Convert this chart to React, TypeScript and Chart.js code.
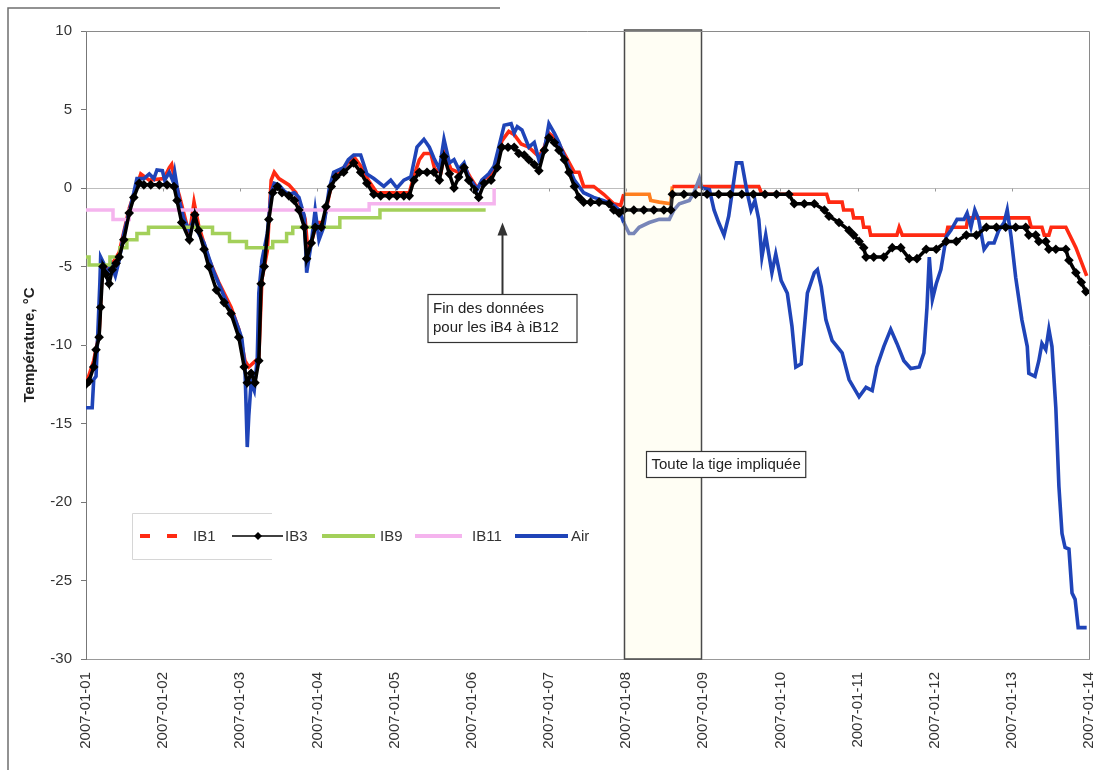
import React, { useEffect, useRef } from 'react';
import { Chart, registerables } from 'chart.js';

Chart.register(...registerables);

const FONT = '"Liberation Sans", Arial, Helvetica, sans-serif';

// ---- tick labels (one per day, 2007-01-01 .. 2007-01-14) ----
const dateLabels = [
  '2007-01-01', '2007-01-02', '2007-01-03', '2007-01-04', '2007-01-05',
  '2007-01-06', '2007-01-07', '2007-01-08', '2007-01-09', '2007-01-10',
  '2007-01-11', '2007-01-12', '2007-01-13', '2007-01-14',
];

const yMin = -30;
const yMax = 10;
const yStep = 5;

// ---- series: [time in days since 2007-01-01 00:00, temperature °C] ----
const ib1Series: [number, number][] = [
  [0.00, -12.5], [0.10, -11.0], [0.17, -9.3], [0.21, -5.2], [0.32, -5.0], [0.43, -4.1],
  [0.56, -1.3], [0.65, 0.0], [0.71, 0.9], [0.82, 0.5], [1.01, 0.6], [1.08, 1.3], [1.11, 1.5],
  [1.15, 0.5], [1.21, -0.5], [1.34, -3.0], [1.40, -0.9], [1.46, -2.4], [1.59, -4.5],
  [1.72, -6.0], [1.88, -7.6], [1.98, -9.0], [2.06, -11.0], [2.11, -11.4], [2.20, -11.0],
  [2.24, -10.8], [2.28, -5.8], [2.35, -4.0], [2.40, 0.5], [2.44, 1.0], [2.50, 0.6],
  [2.63, 0.2], [2.72, -0.3], [2.79, -1.2], [2.84, -2.0], [2.88, -4.2], [2.93, -3.3],
  [2.99, -2.2], [3.08, -2.2], [3.15, -0.5], [3.21, 0.8], [3.34, 1.3], [3.47, 2.0],
  [3.56, 1.4], [3.66, 0.5], [3.77, -0.3], [4.19, -0.3], [4.26, 0.9], [4.32, 1.8],
  [4.38, 2.2], [4.47, 2.2], [4.52, 1.2], [4.60, 1.0], [4.65, 2.2], [4.73, 1.2], [4.83, 1.0],
  [4.90, 1.4], [4.99, 0.6], [5.07, 0.0], [5.16, 0.6], [5.25, 0.8], [5.33, 1.8], [5.39, 3.0],
  [5.48, 3.6], [5.55, 3.4], [5.64, 2.8], [5.74, 2.6], [5.87, 2.0], [5.94, 2.6], [6.00, 3.5],
  [6.07, 3.2], [6.13, 2.8], [6.22, 2.0], [6.33, 1.0], [6.39, 1.0], [6.45, 0.1], [6.58, 0.1],
  [6.71, -0.4], [6.84, -1.0], [6.93, -1.1], [6.97, -0.4], [7.30, -0.4], [7.32, -0.8],
  [7.43, -0.9], [7.58, -1.0], [7.60, 0.1], [8.72, 0.1], [8.76, -0.4], [9.60, -0.4],
  [9.63, -0.9], [9.80, -0.9], [9.82, -1.4], [9.93, -1.4], [9.95, -1.9], [10.06, -1.9],
  [10.08, -2.5], [10.15, -2.5], [10.17, -3.0], [10.51, -3.0], [10.54, -2.5], [10.58, -3.0],
  [11.15, -3.0], [11.17, -2.5], [11.41, -2.5], [11.43, -1.9], [12.22, -1.9], [12.25, -2.5],
  [12.39, -2.5], [12.42, -3.0], [12.48, -3.0], [12.51, -2.5], [12.70, -2.5], [12.83, -3.8],
  [12.97, -5.6],
];

const ib3Series: [number, number][] = [
  [0.00, -12.5], [0.04, -12.3], [0.10, -11.4], [0.13, -10.3], [0.17, -9.5], [0.19, -7.6],
  [0.22, -5.0], [0.26, -5.5], [0.30, -6.1], [0.34, -5.2], [0.39, -4.8], [0.43, -4.4],
  [0.49, -3.3], [0.56, -1.6], [0.62, -0.6], [0.69, 0.3], [0.75, 0.2], [0.84, 0.2],
  [0.95, 0.2], [1.05, 0.2], [1.14, 0.1], [1.18, -0.8], [1.24, -2.2], [1.34, -3.3],
  [1.41, -1.7], [1.46, -2.7], [1.53, -3.9], [1.59, -5.0], [1.69, -6.5], [1.79, -7.3],
  [1.88, -8.0], [1.98, -9.5], [2.05, -11.4], [2.09, -12.4], [2.14, -11.8], [2.19, -12.4],
  [2.24, -11.0], [2.27, -6.1], [2.31, -5.0], [2.37, -2.0], [2.42, -0.3], [2.48, 0.1],
  [2.54, -0.3], [2.63, -0.5], [2.70, -0.8], [2.76, -1.4], [2.83, -2.5], [2.86, -4.5],
  [2.92, -3.5], [2.97, -2.5], [3.05, -2.5], [3.11, -1.2], [3.18, 0.1], [3.24, 0.7],
  [3.34, 1.0], [3.47, 1.6], [3.56, 1.0], [3.64, 0.3], [3.73, -0.4], [3.82, -0.5],
  [3.93, -0.5], [4.03, -0.5], [4.12, -0.5], [4.19, -0.5], [4.25, 0.5], [4.32, 1.0],
  [4.42, 1.0], [4.51, 1.0], [4.58, 0.5], [4.64, 2.0], [4.71, 0.9], [4.77, 0.0], [4.83, 0.7],
  [4.90, 1.3], [4.96, 0.5], [5.03, -0.1], [5.09, -0.6], [5.16, 0.3], [5.25, 0.5], [5.33, 1.3],
  [5.39, 2.6], [5.47, 2.6], [5.55, 2.6], [5.61, 2.2], [5.68, 2.1], [5.74, 1.8], [5.81, 1.5],
  [5.87, 1.1], [5.94, 2.4], [6.00, 3.2], [6.07, 2.9], [6.13, 2.4], [6.20, 1.8], [6.26, 1.0],
  [6.33, 0.1], [6.39, -0.6], [6.45, -0.9], [6.54, -0.9], [6.65, -0.9], [6.78, -1.0],
  [6.84, -1.4], [6.91, -1.6], [6.97, -1.4], [7.10, -1.4], [7.23, -1.4], [7.36, -1.4],
  [7.49, -1.4], [7.58, -1.4], [7.60, -0.4], [7.75, -0.4], [7.90, -0.4], [8.05, -0.4],
  [8.20, -0.4], [8.35, -0.4], [8.50, -0.4], [8.65, -0.4], [8.80, -0.4], [8.95, -0.4],
  [9.11, -0.4], [9.18, -1.0], [9.31, -1.0], [9.44, -1.0], [9.57, -1.4], [9.63, -1.8],
  [9.76, -2.2], [9.89, -2.7], [9.95, -3.0], [10.02, -3.4], [10.08, -3.8], [10.11, -4.4],
  [10.21, -4.4], [10.34, -4.4], [10.45, -3.8], [10.56, -3.8], [10.67, -4.5], [10.77, -4.5],
  [10.89, -3.9], [11.02, -3.9], [11.15, -3.4], [11.28, -3.4], [11.41, -3.0], [11.54, -3.0],
  [11.67, -2.5], [11.80, -2.5], [11.92, -2.5], [12.05, -2.5], [12.18, -2.5], [12.22, -3.0],
  [12.31, -3.0], [12.35, -3.4], [12.44, -3.4], [12.48, -3.9], [12.57, -3.9], [12.70, -3.9],
  [12.74, -4.6], [12.83, -5.4], [12.90, -6.0], [12.96, -6.6],
];

const ib9Series: [number, number][] = [
  [0.00, -4.4], [0.04, -4.9], [0.31, -4.4], [0.44, -3.8], [0.53, -3.3], [0.66, -2.9],
  [0.81, -2.5], [1.64, -2.9], [1.86, -3.4], [2.08, -3.8], [2.42, -3.4], [2.60, -2.9],
  [2.68, -2.5], [3.29, -1.9], [3.81, -1.4], [5.18, -1.4],
];

const ib11Series: [number, number][] = [
  [0.00, -1.4], [0.35, -2.0], [0.56, -1.4], [3.67, -1.0], [5.29, 0.0],
];

const airSeries: [number, number][] = [
  [0.00, -14.0], [0.08, -14.0], [0.10, -12.2], [0.13, -12.0], [0.18, -6.0], [0.19, -4.4],
  [0.23, -4.8], [0.27, -5.6], [0.32, -4.8], [0.38, -5.6], [0.43, -4.6], [0.49, -2.9],
  [0.56, -1.5], [0.62, -0.3], [0.66, 0.6], [0.75, 0.6], [0.82, 0.9], [0.88, 0.6],
  [0.92, 1.15], [0.99, 1.1], [1.02, 0.5], [1.08, 1.0], [1.13, 0.4], [1.15, 1.0],
  [1.21, -0.8], [1.27, -2.0], [1.34, -2.7], [1.41, -1.8], [1.46, -2.9], [1.53, -3.5],
  [1.59, -4.4], [1.66, -5.4], [1.72, -6.1], [1.79, -6.9], [1.85, -7.6], [1.92, -8.2],
  [1.98, -9.0], [2.02, -9.6], [2.06, -11.4], [2.09, -16.5], [2.11, -14.5], [2.14, -12.4],
  [2.18, -12.9], [2.22, -10.8], [2.24, -6.7], [2.28, -4.6], [2.35, -2.9], [2.40, -0.3],
  [2.44, 0.3], [2.50, 0.2], [2.57, -0.2], [2.63, -0.4], [2.70, -0.3], [2.76, -0.6],
  [2.83, -1.8], [2.86, -5.4], [2.92, -3.5], [2.97, -1.4], [3.02, -3.3], [3.08, -2.5],
  [3.15, -0.1], [3.21, 1.0], [3.34, 1.3], [3.40, 1.8], [3.47, 2.1], [3.56, 2.1],
  [3.64, 0.9], [3.73, 0.6], [3.86, 0.1], [3.95, 0.5], [4.03, 0.0], [4.12, 0.5],
  [4.21, 0.7], [4.29, 2.6], [4.38, 3.1], [4.45, 2.6], [4.51, 1.9], [4.58, 1.2],
  [4.64, 3.1], [4.71, 1.6], [4.77, 1.8], [4.83, 1.2], [4.90, 1.6], [4.96, 0.7],
  [5.07, -0.1], [5.13, 0.5], [5.22, 0.9], [5.29, 1.4], [5.35, 2.6], [5.42, 4.0],
  [5.51, 4.1], [5.55, 3.5], [5.59, 3.9], [5.65, 3.7], [5.74, 2.6], [5.81, 2.9],
  [5.87, 1.8], [5.94, 2.4], [6.00, 4.1], [6.07, 3.5], [6.13, 2.9], [6.20, 2.0],
  [6.26, 1.3], [6.33, 0.5], [6.39, 0.1], [6.45, -0.3], [6.58, -0.6], [6.71, -0.8],
  [6.84, -1.1], [6.91, -1.4], [6.97, -2.2], [7.04, -2.9], [7.10, -2.9], [7.17, -2.5],
  [7.30, -2.2], [7.43, -2.0], [7.56, -2.0], [7.62, -1.4], [7.69, -1.0], [7.82, -0.8],
  [7.88, -0.3], [7.95, 0.6], [7.98, 0.0], [8.08, -0.1], [8.14, -1.4], [8.20, -2.2],
  [8.27, -3.0], [8.33, -1.8], [8.43, 1.6], [8.50, 1.6], [8.57, -0.3], [8.62, -1.4],
  [8.67, -0.8], [8.72, -2.0], [8.76, -4.4], [8.81, -3.0], [8.85, -4.2], [8.89, -5.4],
  [8.94, -4.2], [9.01, -5.9], [9.09, -6.7], [9.15, -8.8], [9.20, -11.4], [9.27, -11.2],
  [9.35, -6.7], [9.44, -5.4], [9.48, -5.2], [9.53, -6.3], [9.59, -8.4], [9.67, -9.7],
  [9.80, -10.5], [9.89, -12.2], [10.02, -13.3], [10.11, -12.7], [10.19, -12.9],
  [10.25, -11.4], [10.34, -10.1], [10.43, -9.0], [10.51, -9.9], [10.60, -11.0],
  [10.69, -11.5], [10.80, -11.4], [10.86, -10.5], [10.90, -7.6], [10.93, -4.4],
  [10.97, -7.1], [11.02, -6.1], [11.08, -5.2], [11.15, -3.1], [11.21, -2.7], [11.29, -2.0],
  [11.38, -2.0], [11.42, -1.6], [11.47, -2.5], [11.52, -1.4], [11.57, -2.0], [11.64, -3.9],
  [11.70, -3.5], [11.77, -3.5], [11.83, -2.7], [11.90, -2.2], [11.94, -1.4], [11.99, -3.1],
  [12.05, -5.7], [12.13, -8.4], [12.20, -10.1], [12.22, -11.8], [12.30, -12.0],
  [12.35, -11.0], [12.39, -9.9], [12.44, -10.3], [12.48, -9.0], [12.52, -10.1],
  [12.57, -14.0], [12.61, -19.0], [12.65, -22.0], [12.69, -22.9], [12.74, -23.0],
  [12.78, -25.8], [12.82, -26.2], [12.86, -28.0], [12.97, -28.0],
];

// ---- annotations (data coordinates) ----
const tigeStart = 6.97;
const tigeEnd = 7.97;
const tigeLabel = 'Toute la tige impliquée';
const finLabelLines = ['Fin des données', 'pour les iB4 à iB12'];
const finArrowDay = 5.39;
const finArrowTipValue = -2.2;
const finBoxTopValue = -6.75;
const tigeBoxDay = 7.26;
const tigeBoxTopValue = -16.75;

const COLORS = {
  ib1: '#ff2a12',
  ib1InBox: '#ff7f1e',
  ib3: '#000000',
  ib3InBox: '#262626',
  ib9: '#a3d05a',
  ib11: '#f5b4ee',
  air: '#1f44b8',
  airInBox: '#7886b8',
};

const toXY = (s: [number, number][]) => s.map(([x, y]) => ({ x, y }));
const inBox = (ctx: any) => {
  const a = ctx.p0.parsed.x;
  const b = ctx.p1.parsed.x;
  return a >= tigeStart - 0.001 && b <= tigeEnd + 0.02;
};

const decorPlugin = {
  id: 'decor',
  beforeDatasetsDraw(chart: any) {
    const { ctx, scales, chartArea } = chart;
    const x = scales.x;
    const x0 = x.getPixelForValue(tigeStart);
    const x1 = x.getPixelForValue(tigeEnd);
    ctx.save();
    ctx.fillStyle = '#fffef4';
    ctx.fillRect(x0, chartArea.top - 1, x1 - x0, chartArea.bottom - chartArea.top + 1);
    ctx.restore();
  },
  afterDatasetsDraw(chart: any) {
    const { ctx, scales, chartArea } = chart;
    const x = scales.x;
    const x0 = Math.round(x.getPixelForValue(tigeStart)) + 0.5;
    const x1 = Math.round(x.getPixelForValue(tigeEnd)) + 0.5;
    ctx.save();
    ctx.strokeStyle = '#4a4a4a';
    ctx.lineWidth = 1.5;
    ctx.strokeRect(x0, chartArea.top - 1, x1 - x0, chartArea.bottom - chartArea.top + 1);
    ctx.restore();
  },
  afterDraw(chart: any) {
    const { ctx, scales, chartArea } = chart;
    const x = scales.x;
    const y = scales.y;
    ctx.save();

    // plot frame (top & right)
    ctx.strokeStyle = '#8a8a8a';
    ctx.lineWidth = 1;
    ctx.beginPath();
    ctx.moveTo(chartArea.left, chartArea.top + 0.5);
    ctx.lineTo(chartArea.right + 0.5, chartArea.top + 0.5);
    ctx.lineTo(chartArea.right + 0.5, chartArea.bottom);
    ctx.stroke();

    // small day ticks on the zero line
    const y0 = Math.round(y.getPixelForValue(0)) + 0.5;
    ctx.strokeStyle = '#9a9a9a';
    ctx.beginPath();
    for (let i = 1; i < dateLabels.length - 1; i++) {
      const px = Math.round(x.getPixelForValue(i)) + 0.5;
      ctx.moveTo(px, y0);
      ctx.lineTo(px, y0 + 3);
    }
    ctx.stroke();

    // outer frame of the figure
    ctx.strokeStyle = '#6f6f6f';
    ctx.lineWidth = 1.5;
    ctx.beginPath();
    ctx.moveTo(8, 770);
    ctx.lineTo(8, 8);
    ctx.lineTo(500, 8);
    ctx.stroke();

    ctx.font = `15px ${FONT}`;
    ctx.fillStyle = '#222';
    ctx.textBaseline = 'middle';
    ctx.textAlign = 'left';

    // "Fin des données" box + arrow
    const ax = Math.round(x.getPixelForValue(finArrowDay)) + 0.5;
    const tipY = y.getPixelForValue(finArrowTipValue);
    const boxTop = Math.round(y.getPixelForValue(finBoxTopValue)) + 0.5;
    const bw = 149;
    const bh = 48;
    const bl = Math.round(ax - 75);
    ctx.strokeStyle = '#333';
    ctx.lineWidth = 2;
    ctx.beginPath();
    ctx.moveTo(ax, boxTop);
    ctx.lineTo(ax, tipY + 10);
    ctx.stroke();
    ctx.fillStyle = '#333';
    ctx.beginPath();
    ctx.moveTo(ax, tipY);
    ctx.lineTo(ax - 5, tipY + 13);
    ctx.lineTo(ax + 5, tipY + 13);
    ctx.closePath();
    ctx.fill();
    ctx.fillStyle = '#fff';
    ctx.fillRect(bl, boxTop, bw, bh);
    ctx.strokeStyle = '#333';
    ctx.lineWidth = 1.2;
    ctx.strokeRect(bl, boxTop, bw, bh);
    ctx.fillStyle = '#222';
    ctx.fillText(finLabelLines[0], bl + 5, boxTop + 14);
    ctx.fillText(finLabelLines[1], bl + 5, boxTop + 33);

    // "Toute la tige impliquée" box
    const tl = Math.round(x.getPixelForValue(tigeBoxDay)) + 0.5;
    const tt = Math.round(y.getPixelForValue(tigeBoxTopValue)) + 0.5;
    const tw = ctx.measureText(tigeLabel).width + 10;
    ctx.fillStyle = '#fff';
    ctx.fillRect(tl, tt, tw, 26);
    ctx.strokeStyle = '#333';
    ctx.lineWidth = 1.2;
    ctx.strokeRect(tl, tt, tw, 26);
    ctx.fillStyle = '#222';
    ctx.fillText(tigeLabel, tl + 5, tt + 13.5);

    // legend
    const ly = 536;
    ctx.strokeStyle = '#d6d6d6';
    ctx.lineWidth = 1;
    ctx.beginPath();
    ctx.moveTo(272, 513.5);
    ctx.lineTo(132.5, 513.5);
    ctx.lineTo(132.5, 559.5);
    ctx.lineTo(272, 559.5);
    ctx.stroke();

    ctx.fillStyle = COLORS.ib1;
    ctx.fillRect(140, ly - 2, 10, 4);
    ctx.fillRect(167, ly - 2, 10, 4);

    ctx.strokeStyle = COLORS.ib3;
    ctx.lineWidth = 1.5;
    ctx.beginPath();
    ctx.moveTo(232, ly);
    ctx.lineTo(283, ly);
    ctx.stroke();
    ctx.fillStyle = COLORS.ib3;
    ctx.beginPath();
    ctx.moveTo(258, ly - 4);
    ctx.lineTo(262, ly);
    ctx.lineTo(258, ly + 4);
    ctx.lineTo(254, ly);
    ctx.closePath();
    ctx.fill();

    const seg = (c: string, a: number, b: number) => {
      ctx.strokeStyle = c;
      ctx.lineWidth = 4;
      ctx.beginPath();
      ctx.moveTo(a, ly);
      ctx.lineTo(b, ly);
      ctx.stroke();
    };
    seg(COLORS.ib9, 322, 375);
    seg(COLORS.ib11, 415, 462);
    seg(COLORS.air, 515, 568);

    ctx.fillStyle = '#333';
    ctx.fillText('IB1', 193, ly + 1);
    ctx.fillText('IB3', 285, ly + 1);
    ctx.fillText('IB9', 380, ly + 1);
    ctx.fillText('IB11', 472, ly + 1);
    ctx.fillText('Air', 571, ly + 1);

    ctx.restore();
  },
};

export default function App() {
  const ref = useRef<HTMLCanvasElement | null>(null);

  useEffect(() => {
    if (!ref.current) return;
    const chart = new Chart(ref.current, {
      type: 'line',
      data: {
        datasets: [
          {
            label: 'IB3', data: toXY(ib3Series), borderColor: COLORS.ib3, backgroundColor: COLORS.ib3,
            borderWidth: 3.5, pointStyle: 'rectRot', pointRadius: 4.8, pointBorderWidth: 0,
            pointBackgroundColor: COLORS.ib3, tension: 0, order: 0,
            segment: { borderColor: (c: any) => (inBox(c) ? COLORS.ib3InBox : undefined) },
          },
          {
            label: 'IB11', data: toXY(ib11Series), borderColor: COLORS.ib11, borderWidth: 3.5,
            pointRadius: 0, stepped: true, order: 1,
          },
          {
            label: 'IB9', data: toXY(ib9Series), borderColor: COLORS.ib9, borderWidth: 3.5,
            pointRadius: 0, stepped: true, order: 2,
          },
          {
            label: 'Air', data: toXY(airSeries), borderColor: COLORS.air, borderWidth: 3.6,
            pointRadius: 0, tension: 0, order: 3,
            segment: { borderColor: (c: any) => (inBox(c) ? COLORS.airInBox : undefined) },
          },
          {
            label: 'IB1', data: toXY(ib1Series), borderColor: COLORS.ib1, borderWidth: 3.6,
            pointRadius: 0, tension: 0, order: 4,
            segment: { borderColor: (c: any) => (inBox(c) ? COLORS.ib1InBox : undefined) },
          },
        ] as any,
      },
      options: {
        animation: false,
        responsive: false,
        maintainAspectRatio: false,
        layout: { padding: { top: 31, right: 7, left: 0, bottom: 0 } },
        plugins: { legend: { display: false }, tooltip: { enabled: false } },
        scales: {
          x: {
            type: 'linear',
            min: 0,
            max: dateLabels.length - 1,
            ticks: {
              stepSize: 1,
              autoSkip: false,
              minRotation: 90,
              maxRotation: 90,
              padding: 13,
              color: '#333',
              font: { family: FONT, size: 15 },
              callback: (_v: any, i: number) => dateLabels[i],
            },
            grid: { display: false, drawTicks: false, tickLength: 0 },
            border: { display: true, color: '#999', width: 1 },
            afterFit: (s: any) => {
              s.height = 111;
              s.paddingLeft = 0;
              s.paddingRight = 0;
            },
          },
          y: {
            min: yMin,
            max: yMax,
            ticks: {
              stepSize: yStep,
              padding: 9,
              color: '#333',
              font: { family: FONT, size: 15 },
            },
            grid: {
              drawOnChartArea: true,
              color: (c: any) => (c.tick && c.tick.value === 0 ? '#bdbdbd' : 'rgba(0,0,0,0)'),
              tickColor: '#777',
              tickLength: 5,
            },
            border: { display: true, color: '#777', width: 1 },
            title: {
              display: true,
              text: 'Température, °C',
              color: '#222',
              font: { family: FONT, size: 15, weight: 'bold' },
              padding: { top: 21, bottom: 0 },
            },
            afterFit: (s: any) => {
              s.width = 86;
            },
          },
        },
      } as any,
      plugins: [decorPlugin],
    });
    return () => chart.destroy();
  }, []);

  return (
    <div style={{ position: 'absolute', left: 0, top: 0, width: 1096, height: 770, background: '#fff' }}>
      <canvas ref={ref} width={1096} height={770} style={{ display: 'block' }} />
    </div>
  );
}
